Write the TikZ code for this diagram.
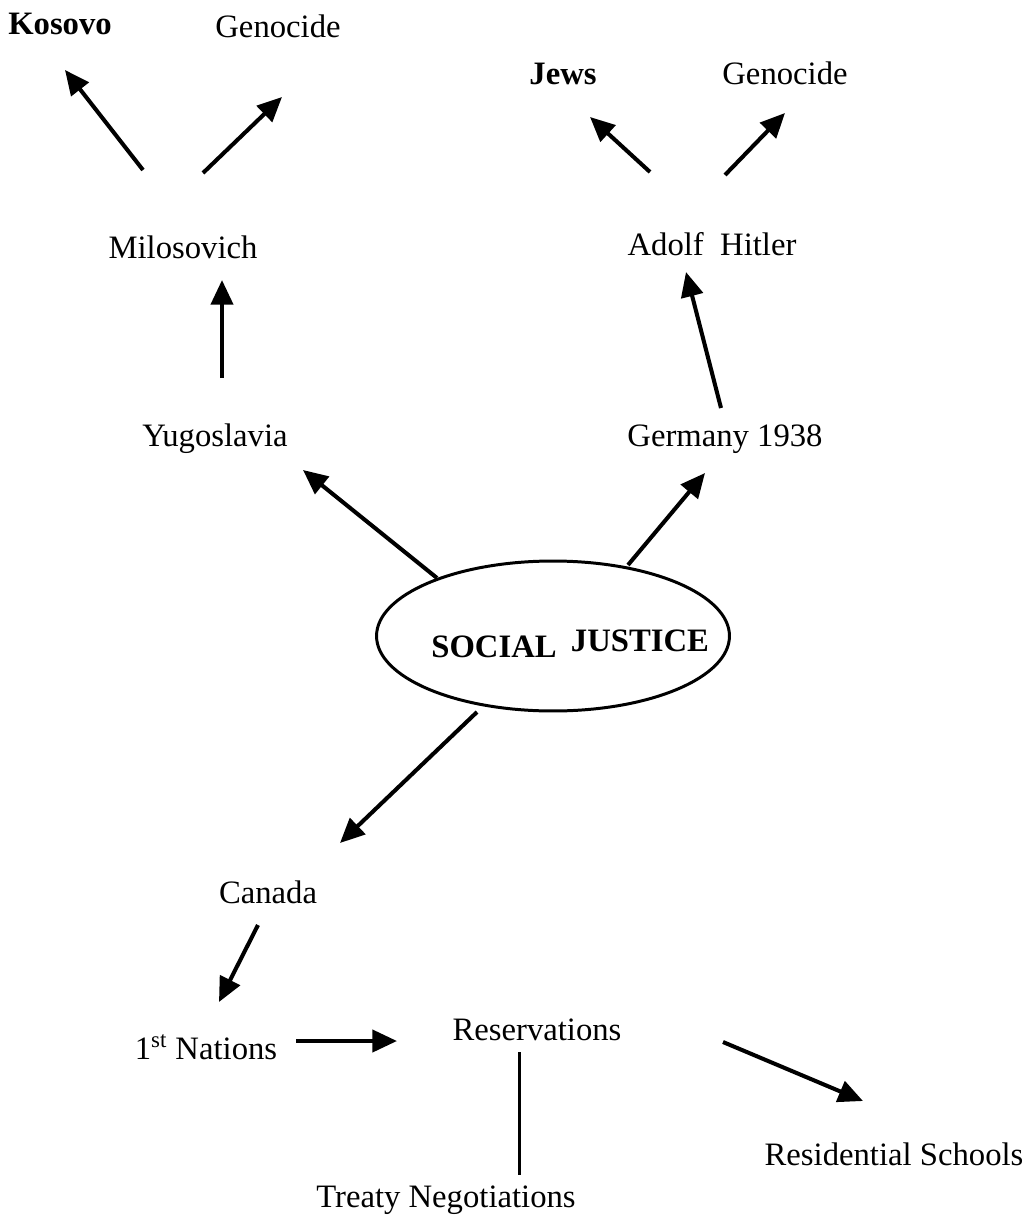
\documentclass[tikz,border=0pt]{standalone}
\usepackage{fontspec}
\setmainfont{Liberation Serif}
\usetikzlibrary{arrows.meta,shapes.geometric}
\begin{document}
\begin{tikzpicture}[x=0.02cm,y=-0.02cm,
  lbl/.style={inner sep=0pt,anchor=base,font=\fontsize{18.6}{22}\selectfont},
  blbl/.style={lbl,font=\fontsize{18.6}{22}\selectfont\bfseries},
  arr/.style={line width=2.3pt,-{Triangle[length=14pt,width=12.5pt]}},
  plain/.style={line width=1.7pt}]
\useasboundingbox (0,0) rectangle (1029,1220);
% nodes
\node[blbl] (kos) at (60,35) {Kosovo};
\node[lbl] (gen1) at (278,38) {Genocide};
\node[blbl] (jews) at (563,85) {Jews};
\node[lbl] (gen2) at (785,85) {Genocide};
\node[lbl] (mil) at (183,258) {Milosovich};
\node[lbl] (hit) at (712,255) {Adolf\ \ Hitler};
\node[lbl] (yug) at (215,446) {Yugoslavia};
\node[lbl] (ger) at (725,446) {Germany 1938};
\node[draw,ellipse,line width=1.7pt,minimum width=353\pgflinewidth,inner sep=0pt,
      minimum width=7.06cm,minimum height=3.0cm] (sj) at (553,636) {};
\node[blbl] (soc) at (494,657) {SOCIAL};
\node[blbl] (jus) at (640,651) {JUSTICE};
\node[lbl] (can) at (268,903) {Canada};
\node[lbl] (fn) at (206,1059) {1\textsuperscript{st} Nations};
\node[lbl] (res) at (537,1040) {Reservations};
\node[lbl] (tre) at (446,1207) {Treaty Negotiations};
\node[lbl] (rs) at (894,1165) {Residential Schools};
% connector end points
\coordinate (a1s) at (143,170); \coordinate (a1e) at (65,70);
\coordinate (a2s) at (203,173); \coordinate (a2e) at (282,97);
\coordinate (a3s) at (650,172); \coordinate (a3e) at (590,117);
\coordinate (a4s) at (725,175); \coordinate (a4e) at (785,113);
\coordinate (a5s) at (222,378); \coordinate (a5e) at (222,280);
\coordinate (a6s) at (721,408); \coordinate (a6e) at (686,272);
\coordinate (a7s) at (437,578); \coordinate (a7e) at (303,470);
\coordinate (a8s) at (628,565); \coordinate (a8e) at (705,473);
\coordinate (a9s) at (477,712); \coordinate (a9e) at (340,843);
\coordinate (a10s) at (258,925); \coordinate (a10e) at (219,1002);
\coordinate (a11s) at (296,1041); \coordinate (a11e) at (397,1041);
\coordinate (a12s) at (723,1042); \coordinate (a12e) at (863,1101);
\coordinate (l1s) at (519,1052); \coordinate (l1e) at (519,1175);
% connectors
\draw[arr] (a1s) -- (a1e);
\draw[arr] (a2s) -- (a2e);
\draw[arr] (a3s) -- (a3e);
\draw[arr] (a4s) -- (a4e);
\draw[arr] (a5s) -- (a5e);
\draw[arr] (a6s) -- (a6e);
\draw[arr] (a7s) -- (a7e);
\draw[arr] (a8s) -- (a8e);
\draw[arr] (a9s) -- (a9e);
\draw[arr] (a10s) -- (a10e);
\draw[arr] (a11s) -- (a11e);
\draw[arr] (a12s) -- (a12e);
\draw[plain] (l1s) -- (l1e);
\end{tikzpicture}
\end{document}
